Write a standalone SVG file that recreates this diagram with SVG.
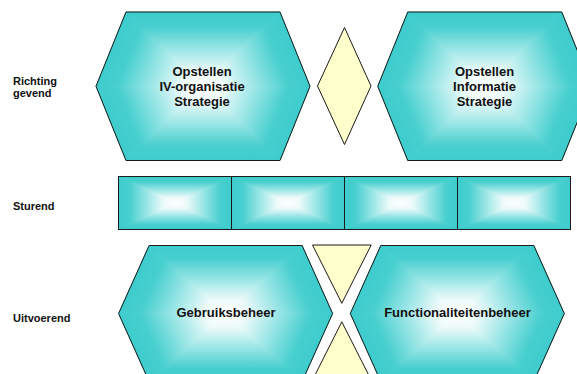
<svg xmlns="http://www.w3.org/2000/svg" xmlns:xlink="http://www.w3.org/1999/xlink" width="577" height="374" viewBox="0 0 577 374">
<style>
.lbl{font-family:"Liberation Sans",Arial,sans-serif;font-weight:bold;font-size:11px;fill:#111}
.txt{font-family:"Liberation Sans",Arial,sans-serif;font-weight:bold;font-size:13px;fill:#111;text-anchor:middle}
.tri{fill:url(#g);stroke:url(#g);stroke-width:0.8;vector-effect:non-scaling-stroke}
.edge{fill:none;stroke:#1a1a1a;stroke-width:1}
.base{fill:#a8e8e8;stroke:none}
.yel{fill:#ffffcc;stroke:#1a1a1a;stroke-width:1}
</style>
<defs>
<linearGradient id="g" gradientUnits="userSpaceOnUse" x1="0" y1="0" x2="0" y2="1">
<stop offset="0" stop-color="#3ecccc"/>
<stop offset="0.2" stop-color="#48cfcf"/>
<stop offset="0.55" stop-color="#a8e9e9"/>
<stop offset="0.8" stop-color="#eefafa"/>
<stop offset="1" stop-color="#ffffff"/>
</linearGradient>
<polygon id="t" class="tri" points="0,0 1,0 0,1"/>
<g id="hexTop">
<polygon class="base" points="-107,0 -77,-74.25 77,-74.25 107,0 77,74.25 -77,74.25"/>
<use xlink:href="#t" transform="matrix(30,-74.25,107,0,-107,0)"/>
<use xlink:href="#t" transform="matrix(154,0,77,74.25,-77,-74.25)"/>
<use xlink:href="#t" transform="matrix(30,74.25,-77,74.25,77,-74.25)"/>
<use xlink:href="#t" transform="matrix(-30,74.25,-107,0,107,0)"/>
<use xlink:href="#t" transform="matrix(-154,0,-77,-74.25,77,74.25)"/>
<use xlink:href="#t" transform="matrix(-30,-74.25,77,-74.25,-77,74.25)"/>
<polygon class="edge" points="-107,0 -77,-74.25 77,-74.25 107,0 77,74.25 -77,74.25"/>
</g>
<g id="hexBot">
<polygon class="base" points="-107,0 -76.5,-68 76.5,-68 107,0 76.5,68 -76.5,68"/>
<use xlink:href="#t" transform="matrix(30.5,-68,107,0,-107,0)"/>
<use xlink:href="#t" transform="matrix(153,0,76.5,68,-76.5,-68)"/>
<use xlink:href="#t" transform="matrix(30.5,68,-76.5,68,76.5,-68)"/>
<use xlink:href="#t" transform="matrix(-30.5,68,-107,0,107,0)"/>
<use xlink:href="#t" transform="matrix(-153,0,-76.5,-68,76.5,68)"/>
<use xlink:href="#t" transform="matrix(-30.5,-68,76.5,-68,-76.5,68)"/>
<polygon class="edge" points="-107,0 -76.5,-68 76.5,-68 107,0 76.5,68 -76.5,68"/>
</g>
<g id="cell">
<rect class="base" x="-56.5" y="-26.5" width="113" height="53"/>
<use xlink:href="#t" transform="matrix(113,0,56.5,26.5,-56.5,-26.5)"/>
<use xlink:href="#t" transform="matrix(0,53,-56.5,26.5,56.5,-26.5)"/>
<use xlink:href="#t" transform="matrix(-113,0,-56.5,-26.5,56.5,26.5)"/>
<use xlink:href="#t" transform="matrix(0,-53,56.5,-26.5,-56.5,26.5)"/>
<rect class="edge" x="-56.5" y="-26.5" width="113" height="53"/>
</g>
</defs>
<rect width="577" height="374" fill="#ffffff"/>

<g id="labels">
<text class="lbl" x="13" y="85">Richting</text>
<text class="lbl" x="13" y="97">gevend</text>
<text class="lbl" x="13" y="210">Sturend</text>
<text class="lbl" x="13" y="322">Uitvoerend</text>
</g>

<g id="connectors">
<polygon id="diamond" class="yel" points="317.5,86 344.5,27.5 371,86 344.5,144.5"/>
<polygon id="triTop" class="yel" points="312.5,245 371.2,245 341.8,303.3"/>
<polygon id="triBot" class="yel" points="341.8,321.8 371.2,380 312.5,380"/>
</g>

<g id="node-iv-strategie">
<use xlink:href="#hexTop" transform="translate(203,86.25)"/>
<text class="txt" x="202" y="75.5">Opstellen</text>
<text class="txt" x="202" y="90.5">IV-organisatie</text>
<text class="txt" x="202" y="105.5">Strategie</text>
</g>

<g id="node-info-strategie">
<use xlink:href="#hexTop" transform="translate(484.75,86.25)"/>
<text class="txt" x="484.5" y="75.5">Opstellen</text>
<text class="txt" x="484.5" y="90.5">Informatie</text>
<text class="txt" x="484.5" y="105.5">Strategie</text>
</g>

<g id="node-sturend">
<use xlink:href="#cell" transform="translate(175,203)"/>
<use xlink:href="#cell" transform="translate(288,203)"/>
<use xlink:href="#cell" transform="translate(401,203)"/>
<use xlink:href="#cell" transform="translate(514,203)"/>
</g>

<g id="node-gebruiksbeheer">
<use xlink:href="#hexBot" transform="translate(225.6,313.5)"/>
<text class="txt" x="226" y="317">Gebruiksbeheer</text>
</g>

<g id="node-functionaliteitenbeheer">
<use xlink:href="#hexBot" transform="translate(457.3,313.5)"/>
<text class="txt" x="457.5" y="317">Functionaliteitenbeheer</text>
</g>
</svg>
